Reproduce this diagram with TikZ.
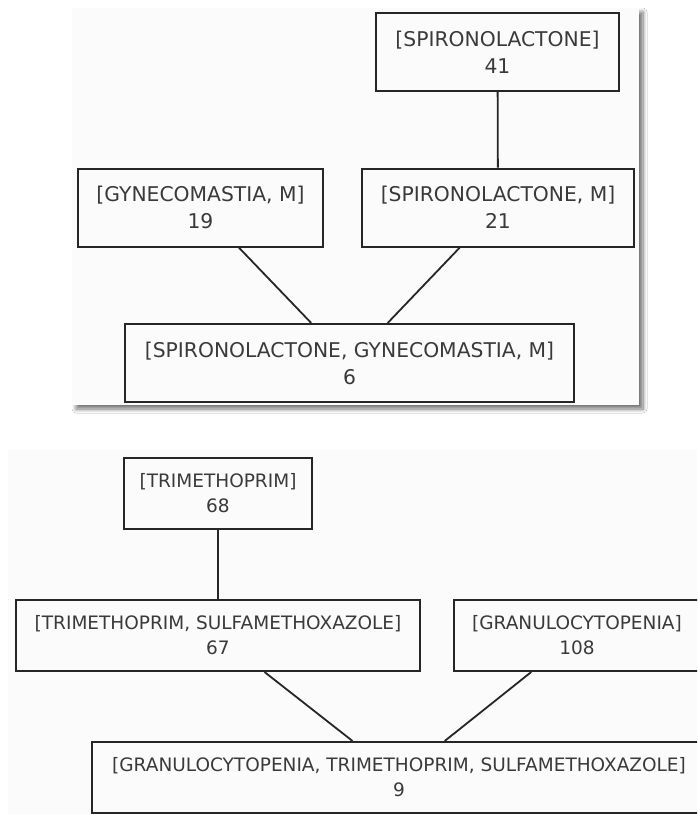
\documentclass[tikz,border=0pt]{standalone}
\usepackage{fontspec}
\setmainfont{DejaVu Sans}
\usetikzlibrary{shadows.blur}
\definecolor{panelgray}{HTML}{FAFBFA}
\definecolor{dark}{HTML}{262626}
\definecolor{ink}{HTML}{3A3A3A}
\tikzset{
  panel/.style={fill=panelgray, draw=none},
  box/.style={draw=dark, line width=2pt, align=center, inner sep=0pt, text=ink},
  topbox/.style={box, minimum height=78pt, font=\fontsize{20.3}{27}\selectfont},
  lowbox/.style={box, minimum height=71pt, font=\fontsize{18.5}{25}\selectfont},
  link/.style={draw=dark, line width=1.8pt}
}
\begin{document}
\begin{tikzpicture}[x=1pt, y=-1pt]
  \useasboundingbox (0,0) rectangle (697,814);
  \clip (0,0) rectangle (697,814);
  \fill[white] (0,0) rectangle (697,814);

  \fill[panel, blur shadow={shadow xshift=4pt, shadow yshift=-4pt, shadow blur steps=8, shadow blur radius=4pt, shadow opacity=55}] (72,8) rectangle (639,405);
  \node[topbox, minimum width=243pt] (spiro) at (497.5,52) {[SPIRONOLACTONE]\\41};
  \node[topbox, minimum width=245pt] (gynm) at (200.5,207.5) {[GYNECOMASTIA, M]\\19};
  \node[topbox, minimum width=272pt] (spirom) at (498,207.5) {[SPIRONOLACTONE, M]\\21};
  \node[topbox, minimum width=449pt] (spirogynm) at (349.5,363) {[SPIRONOLACTONE, GYNECOMASTIA, M]\\6};
  \draw[link] (spiro) -- (spirom);
  \draw[link] (gynm) -- (spirogynm);
  \draw[link] (spirom) -- (spirogynm);

  \fill[panel] (8,450) rectangle (720,830);
  \node[lowbox, minimum width=188pt] (tri) at (218,493.5) {[TRIMETHOPRIM]\\68};
  \node[lowbox, minimum width=404pt] (trisulfa) at (218,635.5) {[TRIMETHOPRIM, SULFAMETHOXAZOLE]\\67};
  \node[lowbox, minimum width=246pt] (gran) at (577,635.5) {[GRANULOCYTOPENIA]\\108};
  \node[lowbox, minimum width=614pt] (grantrisulfa) at (399,777.5) {[GRANULOCYTOPENIA, TRIMETHOPRIM, SULFAMETHOXAZOLE]\\9};
  \draw[link] (tri) -- (trisulfa);
  \draw[link] (trisulfa) -- (grantrisulfa);
  \draw[link] (gran) -- (grantrisulfa);
\end{tikzpicture}
\end{document}
